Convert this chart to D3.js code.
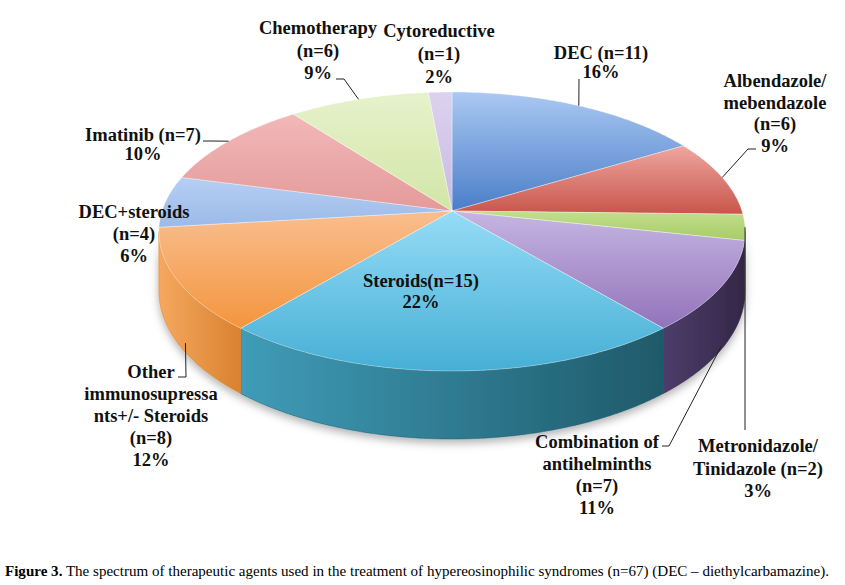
<!DOCTYPE html>
<html>
<head>
<meta charset="utf-8">
<script src="https://cdn.jsdelivr.net/npm/d3@7"></script>
<style>
  body { margin: 0; background: #fff; }
  svg { display: block; }
</style>
</head>
<body>
<div id="chart"></div>
<script>
//Data (clockwise from 12 o'clock)
const categories = ["DEC", "Albendazole/mebendazole", "Metronidazole/Tinidazole", "Combination of antihelminths",
  "Steroids", "Other immunosupressants+/- Steroids", "DEC+steroids", "Imatinib", "Chemotherapy", "Cytoreductive"];
const counts = [11, 6, 2, 7, 15, 8, 4, 7, 6, 1];
const percents = ["16%", "9%", "3%", "11%", "22%", "12%", "6%", "10%", "9%", "2%"];
const labelLines = [
  ["DEC (n=11)"],
  ["Albendazole/", "mebendazole", "(n=6)"],
  ["Metronidazole/", "Tinidazole (n=2)"],
  ["Combination of", "antihelminths", "(n=7)"],
  ["Steroids(n=15)"],
  ["Other", "immunosupressa", "nts+/- Steroids", "(n=8)"],
  ["DEC+steroids", "(n=4)"],
  ["Imatinib (n=7)"],
  ["Chemotherapy", "(n=6)"],
  ["Cytoreductive", "(n=1)"]
];
const caption = " The spectrum of therapeutic agents used in the treatment of hypereosinophilic syndromes (n=67) (DEC \u2013 diethylcarbamazine).";

//Colours: [top light, top dark, wall light, wall dark]
const palette = [
  ["#abc8f2", "#4a7ec8", "#3f6aa6", "#2c4f80"],
  ["#eea69f", "#c8554b", "#a8463e", "#7e332d"],
  ["#c3de8e", "#a8cc66", "#7f9c48", "#5f7636"],
  ["#c6b6e2", "#9273bb", "#4d3d6b", "#342746"],
  ["#95dcf6", "#46afd5", "#3f9cb8", "#1f5a6a"],
  ["#f9be8e", "#f4953e", "#f6a860", "#d9822f"],
  ["#b6cff3", "#9bbae8", "#7d9ccc", "#5f7eaa"],
  ["#f2b8b8", "#e49a9a", "#c27c7c", "#9a5d5d"],
  ["#e6f2cc", "#d2e6a6", "#aabf80", "#8a9e62"],
  ["#dcd2ee", "#c9bae2", "#a596c0", "#83749e"]
];

//Label layout: text centre, first baseline, line height, leader start points, leader end (position along slice, depth fraction)
const labelLayout = [
  {x: 601, y: 59, lh: 19, leader: [[579, 79]], at: 0.5, depth: 0},
  {x: 775, y: 87, lh: 21.5, leader: [[756, 149], [748, 149]], at: 0.5, depth: 0},
  {x: 758, y: 452, lh: 22.5, leader: [[745, 430]], at: 0.5, depth: 0},
  {x: 597, y: 448, lh: 22, leader: [[662, 446], [669, 446]], at: 0.5, depth: 0.95},
  {x: 421, y: 287, lh: 21, leader: null},
  {x: 151, y: 378, lh: 22, leader: [[178, 377], [186, 377]], at: 0.41, depth: 0.85},
  {x: 134, y: 218, lh: 22, leader: null},
  {x: 143, y: 141, lh: 19, leader: [[203, 141], [212, 141]], at: 0.5, depth: 0},
  {x: 318, y: 34, lh: 22.5, leader: [[336, 79], [344, 79]], at: 0.5, depth: 0},
  {x: 439, y: 37, lh: 23, leader: null}
];

//Display specifications
const width = 845, height = 585;
const cx = 452, cy = 211;      // projected centre of the pie
const sx = 290, sy = 136.5;    // horizontal / vertical radius factors
const persp = 0.147;           // perspective strength
const thick = 58;              // wall thickness

//Perspective projection of a point on the rim (phi clockwise from top)
function proj(phi, depth) {
  const u = Math.sin(phi), v = -Math.cos(phi), w = 1 - persp * v;
  return [cx + sx * u / w, cy + (sy * v + depth) / w];
}

const pie = d3.pie().sort(null).value(d => d)(counts);

const svg = d3.select("#chart").append("svg")
  .attr("width", width)
  .attr("height", height);

const defs = svg.append("defs");

//Gradients
pie.forEach((p, i) => {
  const gt = defs.append("linearGradient").attr("id", "top" + i)
    .attr("x1", 0).attr("y1", 0).attr("x2", 0).attr("y2", 1);
  gt.append("stop").attr("offset", "0%").attr("stop-color", palette[i][0]);
  gt.append("stop").attr("offset", "100%").attr("stop-color", palette[i][1]);
  const gw = defs.append("linearGradient").attr("id", "wall" + i)
    .attr("x1", 0).attr("y1", 0).attr("x2", 1).attr("y2", 0);
  gw.append("stop").attr("offset", "0%").attr("stop-color", palette[i][2]);
  gw.append("stop").attr("offset", "100%").attr("stop-color", palette[i][3]);
});

const shadow = defs.append("filter").attr("id", "shadow")
  .attr("x", "-10%").attr("y", "-10%").attr("width", "120%").attr("height", "130%");
shadow.append("feDropShadow").attr("dx", 0).attr("dy", 4).attr("stdDeviation", 4)
  .attr("flood-color", "#000").attr("flood-opacity", 0.3);

function arcPoints(a0, a1, depth) {
  const n = Math.max(2, Math.ceil((a1 - a0) / 0.01));
  return d3.range(n + 1).map(k => proj(a0 + (a1 - a0) * k / n, depth));
}

//Walls (only the front-facing part of the rim)
const phiL = Math.acos(-persp), phiR = 2 * Math.PI - Math.acos(-persp);
const walls = svg.append("g").attr("filter", "url(#shadow)");
pie.forEach((p, i) => {
  const a0 = Math.max(p.startAngle, phiL), a1 = Math.min(p.endAngle, phiR);
  if (a1 <= a0) return;
  const topArc = arcPoints(a0, a1, 0);
  const botArc = arcPoints(a0, a1, thick).reverse();
  walls.append("path")
    .attr("d", d3.line()(topArc.concat(botArc)) + "Z")
    .attr("fill", "url(#wall" + i + ")")
    .attr("stroke", palette[i][3])
    .attr("stroke-width", 0.5);
});

//Top faces
const tops = svg.append("g");
pie.forEach((p, i) => {
  const pts = [[cx, cy]].concat(arcPoints(p.startAngle, p.endAngle, 0));
  tops.append("path")
    .attr("d", d3.line()(pts) + "Z")
    .attr("fill", "url(#top" + i + ")")
    .attr("stroke", "#ffffff")
    .attr("stroke-opacity", 0.45)
    .attr("stroke-width", 0.8)
    .append("title")
    .text(categories[i] + ": " + counts[i] + " (" + percents[i] + ")");
});

//Leader lines
const leaders = svg.append("g");
pie.forEach((p, i) => {
  const L = labelLayout[i];
  if (!L.leader) return;
  const phi = p.startAngle + (p.endAngle - p.startAngle) * L.at;
  const end = proj(phi, thick * L.depth);
  leaders.append("path")
    .attr("d", d3.line()(L.leader.concat([end])))
    .attr("fill", "none")
    .attr("stroke", "#222")
    .attr("stroke-width", 1);
});

//Labels
const labels = svg.append("g")
  .style("font-family", "'Liberation Serif', 'Times New Roman', serif")
  .style("font-weight", "bold")
  .style("font-size", "18.5px")
  .attr("fill", "#111")
  .attr("text-anchor", "middle");
pie.forEach((p, i) => {
  const L = labelLayout[i];
  const lines = labelLines[i].concat([percents[i]]);
  const t = labels.append("text").attr("x", L.x).attr("y", L.y);
  lines.forEach((s, k) => {
    t.append("tspan").attr("x", L.x).attr("y", L.y + k * L.lh).text(s);
  });
});

//Caption
const cap = svg.append("text")
  .attr("x", 5)
  .attr("y", 576)
  .attr("textLength", 824)
  .attr("lengthAdjust", "spacingAndGlyphs")
  .style("font-family", "'Liberation Serif', 'Times New Roman', serif")
  .style("font-size", "14px")
  .attr("fill", "#000");
cap.append("tspan").style("font-weight", "bold").text("Figure 3.");
cap.append("tspan").text(caption);
</script>
</body>
</html>
